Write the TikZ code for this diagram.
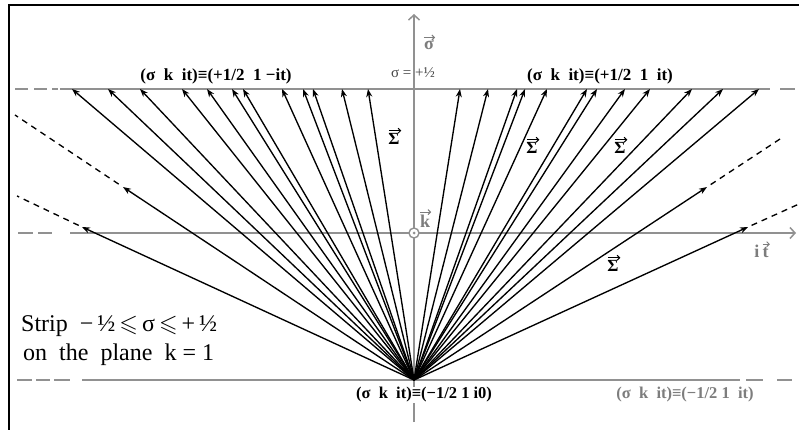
\documentclass[tikz,border=0pt]{standalone}
\usepackage{amsmath,amssymb}
\usepackage{fontspec}
\setmainfont{Liberation Serif}
\usetikzlibrary{arrows.meta,calc}
\definecolor{axisgray}{RGB}{145,145,145}
\definecolor{labelgray}{RGB}{125,125,125}
\definecolor{darkgray}{RGB}{70,70,70}
\tikzset{
  axisline/.style={draw=axisgray, line width=1.6pt},
  axisarrow/.style={axisline, -{Straight Barb[length=5pt,width=11pt,line width=1.5pt]}},
  ray/.style={draw=black, line width=1.35pt, -{Stealth[length=8pt,width=6pt,inset=2.5pt]}},
  dashray/.style={draw=black, line width=1.35pt, dash pattern=on 6pt off 5pt},
  vecarrow/.style={line width=1.1pt, -{Straight Barb[length=2.5pt,width=5pt,line width=1pt]}},
  toplabel/.style={font=\fontsize{17}{19}\selectfont\bfseries, inner sep=1pt},
  botlabel/.style={font=\fontsize{16.5}{18}\selectfont\bfseries, inner sep=1pt},
  graylabel/.style={text=labelgray, font=\fontsize{18}{20}\selectfont\bfseries, inner sep=0.5pt},
  sigmalabel/.style={font=\fontsize{17}{19}\selectfont\bfseries, inner sep=0.5pt},
  striptext/.style={font=\fontsize{24}{27}\selectfont, anchor=west, inner sep=0pt}
}
\begin{document}
\begin{tikzpicture}[x=1pt,y=-1pt]
\useasboundingbox (0,0) rectangle (799,430);
\fill[white] (0,0) rectangle (799,430);
% frame
\draw[line width=2.4pt] (9,432) -- (9,5) -- (801,5);

% named points
\coordinate (O) at (414,380);
\coordinate (Vb) at (414,422);
\coordinate (Vt) at (414,14);
\coordinate (Hl) at (70,233);
\coordinate (Hr) at (796,233);
\coordinate (C) at (414,233);

% top line sigma = +1/2
\draw[axisline] (60,89) -- (770,89);
\draw[axisline] (15,89) -- (28,89);
\draw[axisline] (34,89) -- (47,89);
\draw[axisline] (52,89) -- (58,89);
\draw[axisline] (780,89) -- (795,89);
% middle line
\draw[axisarrow] (Hl) -- (Hr);
\draw[axisline] (18,233) -- (33,233);
\draw[axisline] (38,233) -- (52,233);
% bottom line
\draw[axisline] (82,380) -- (740,380);
\draw[axisline] (17,380) -- (32,380);
\draw[axisline] (36,380) -- (50,380);
\draw[axisline] (54,380) -- (70,380);
\draw[axisline] (746,380) -- (763,380);
\draw[axisline] (777,380) -- (792,380);
% vertical axis
\draw[axisarrow] (Vb) -- (Vt);

% fan of rays to the top line
\foreach \x [count=\i] in {72,108,140,182,207,232,243,282,303,313,342,368,
                            460,488,517,525,547,587,597,625,650,692,723,759} {
  \coordinate (T\i) at (\x,89);
  \draw[ray] (O) -- (T\i);
}
% outer rays with dashed continuation
\coordinate (L1) at (123,187); \coordinate (L1e) at (15,115);
\coordinate (L2) at (82,227);  \coordinate (L2e) at (17,196);
\coordinate (R1) at (707,187); \coordinate (R1e) at (780,139);
\coordinate (R2) at (748,227); \coordinate (R2e) at (799,204);
\draw[ray] (O) -- (L1);
\draw[ray] (O) -- (L2);
\draw[ray] (O) -- (R1);
\draw[ray] (O) -- (R2);
\draw[dashray] ($(L1)!0.04!(L1e)$) -- (L1e);
\draw[dashray] ($(L2)!0.05!(L2e)$) -- (L2e);
\draw[dashray] ($(R1)!0.05!(R1e)$) -- (R1e);
\draw[dashray] ($(R2)!0.07!(R2e)$) -- (R2e);

% k direction marker
\draw[axisgray, line width=1.4pt, fill=white] (C) circle (5pt);
\fill[axisgray] (C) circle (1.5pt);

% labels
\node[toplabel] (lt1) at (216,76) {(σ\ \ k\ \ it)≡(+1/2\ \ 1\ −it)};
\node[toplabel] (lt2) at (600,76) {(σ\ \ k\ \ it)≡(+1/2\ \ 1\ \ it)};
\node[inner sep=0pt, text=darkgray, font=\fontsize{15}{16}\selectfont] (ls) at (413,73) {σ = +½};
\node[botlabel, fill=white] (lb1) at (424,395) {(σ\ \ k\ \ it)≡(−1/2 1 i0)};
\node[botlabel, text=labelgray] (lb2) at (685,395) {(σ\ \ k\ \ it)≡(−1/2 1\ \ it)};

% vector labels (letter + arrow drawn above)
\node[graylabel] (lsig) at (429,45) {σ};
\node[graylabel] (lk) at (425,221) {k};
\node[graylabel, anchor=base east] (li) at (760,257) {i};
\node[graylabel, anchor=base west] (lt) at (762,257) {t};
\node[sigmalabel] (s1) at (394,139) {Σ};
\node[sigmalabel] (s2) at (532,148) {Σ};
\node[sigmalabel] (s3) at (620,148) {Σ};
\node[sigmalabel] (s4) at (613,266) {Σ};
\foreach \n in {lsig,lk,lt} {
  \draw[vecarrow, labelgray] ([xshift=0.5pt,yshift=2pt]\n.north west) -- ([xshift=0.5pt,yshift=2pt]\n.north east);
}
\foreach \n in {s1,s2,s3,s4} {
  \draw[vecarrow, black] ([xshift=1pt,yshift=2pt]\n.north west) -- ([xshift=1pt,yshift=2pt]\n.north east);
}

\node[striptext] (st1) at (21,326) {Strip\ \ −\,½\,$\leqslant$\,σ\,$\leqslant$\,+\,½};
\node[striptext] (st2) at (23,355) {on\ \ the\ \ plane\ \ k = 1};
\end{tikzpicture}
\end{document}
